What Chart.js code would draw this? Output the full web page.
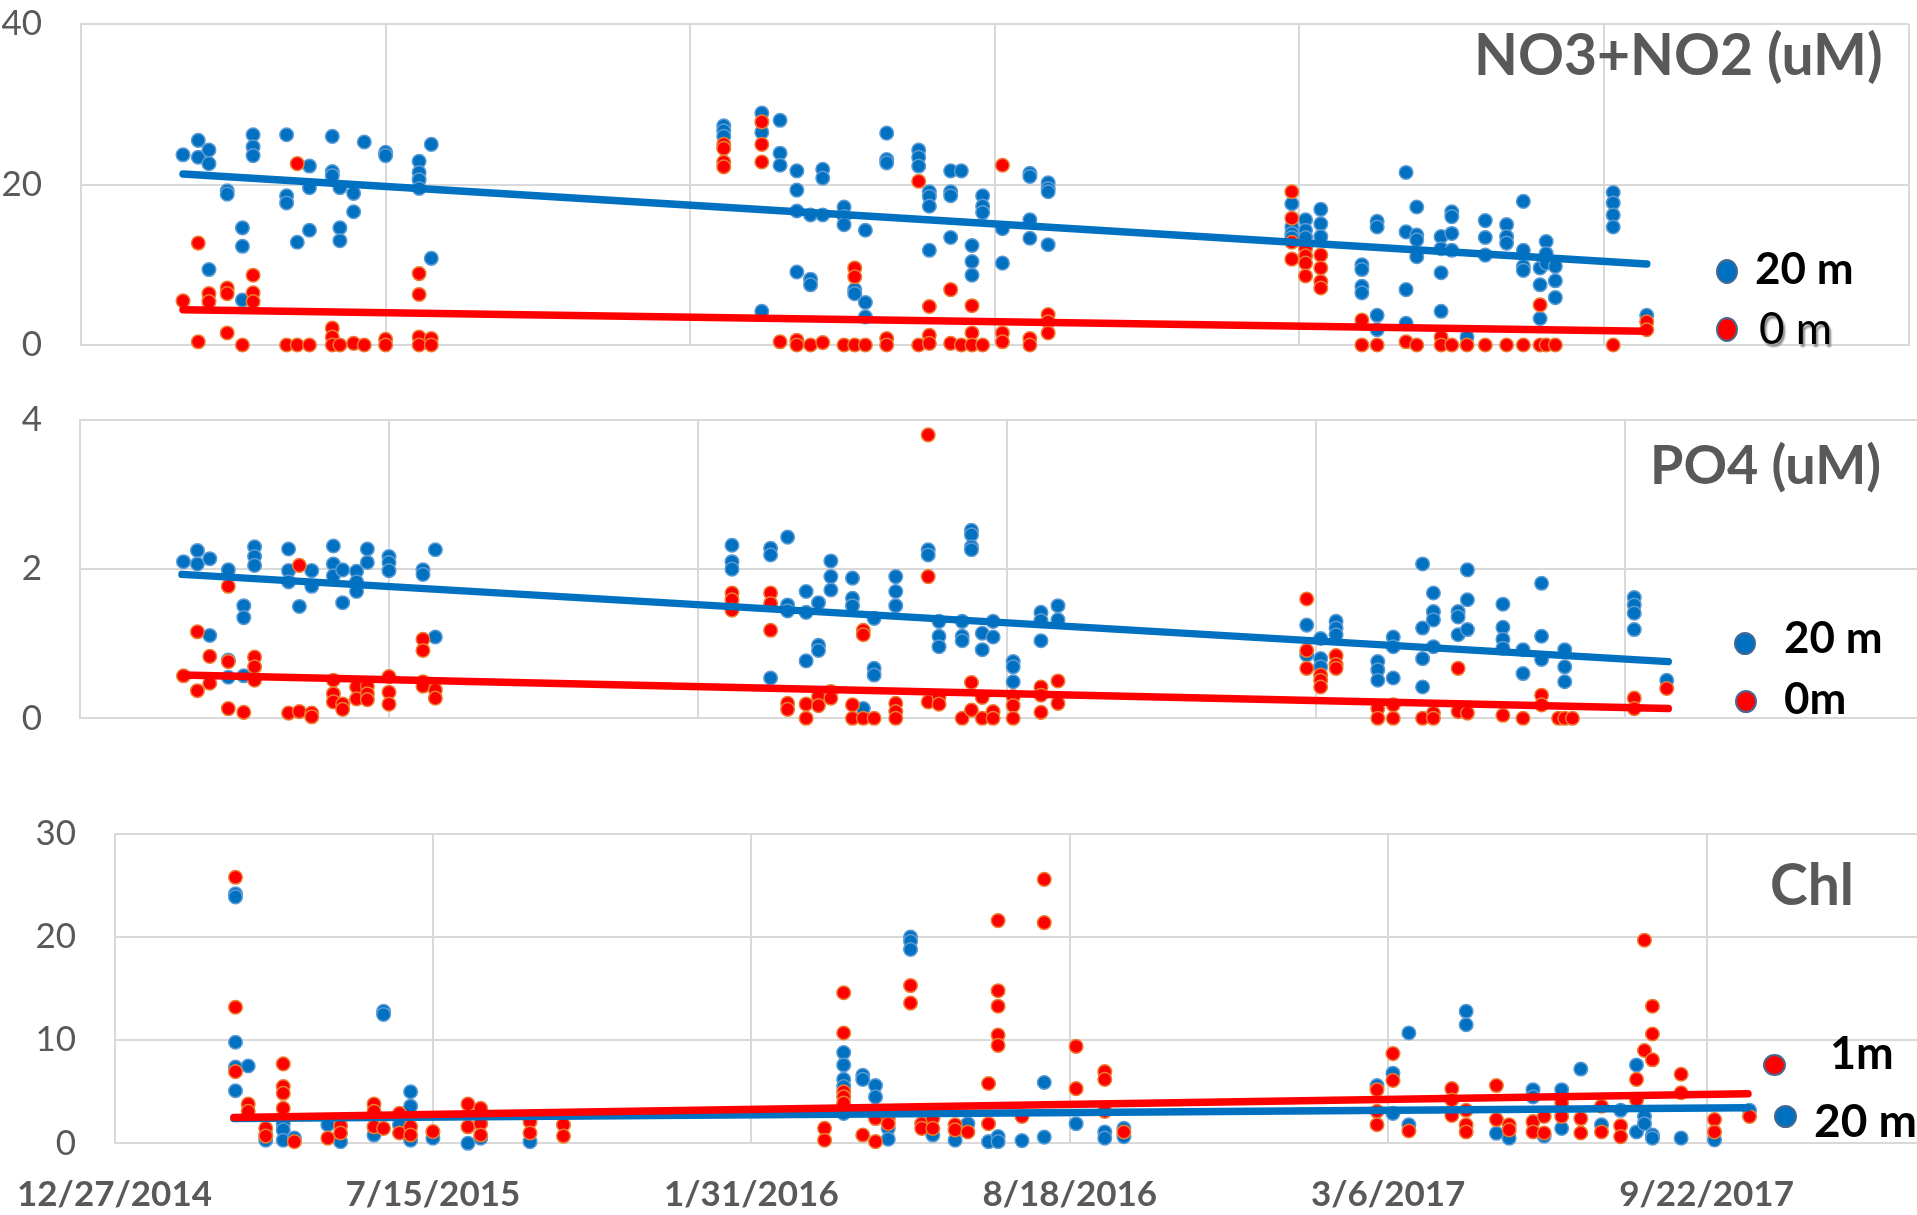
<!DOCTYPE html>
<html><head><meta charset="utf-8">
<script src="https://cdn.jsdelivr.net/npm/chart.js@4.4.1/dist/chart.umd.min.js"></script>
<style>
html,body{margin:0;padding:0;background:#fff;overflow:hidden;width:1917px;height:1215px;position:relative;}
canvas{position:absolute;left:0;}
.t{position:absolute;font-family:Lato,"Open Sans",sans-serif;line-height:1;white-space:nowrap;}
.title{font-weight:bold;color:#595959;}
.lg{font-weight:bold;color:#000;}
.mk{position:absolute;border-radius:50%;box-sizing:border-box;border:2px solid #47698f;}
</style></head>
<body>
<canvas id="c1" width="1917" height="370" style="top:0px;width:1917px;height:370px"></canvas>
<canvas id="c2" width="1960" height="345" style="top:395px;width:1960px;height:345px"></canvas>
<canvas id="c3" width="2145" height="405" style="top:810px;width:2145px;height:405px"></canvas>

<div class="t title" style="left:1474px;top:25px;font-size:57px">NO3+NO2 (uM)</div>
<div class="mk" style="left:1716px;top:259px;width:22px;height:25px;background:#0070C0"></div>
<div class="t lg" style="left:1755px;top:245px;font-size:44px">20 m</div>
<div class="mk" style="left:1716px;top:317px;width:22px;height:25px;background:#FF0000"></div>
<div class="t lg" style="left:1759px;top:305px;font-size:44px;font-weight:normal;text-shadow:2px 3px 2px #8a8a8a">0 m</div>

<div class="t title" style="left:1650px;top:437px;font-size:54px">PO4 (uM)</div>
<div class="mk" style="left:1734px;top:632px;width:22px;height:23px;background:#0070C0"></div>
<div class="t lg" style="left:1784px;top:613.5px;font-size:44px">20 m</div>
<div class="mk" style="left:1735px;top:690px;width:22px;height:23px;background:#FF0000"></div>
<div class="t lg" style="left:1784px;top:675px;font-size:44px">0m</div>

<div class="t title" style="left:1770px;top:855px;font-size:57px">Chl</div>
<div class="mk" style="left:1763px;top:1054px;width:23px;height:22px;background:#FF0000"></div>
<div class="t lg" style="left:1830px;top:1030px;font-size:45px">1m</div>
<div class="mk" style="left:1774px;top:1105px;width:23px;height:23px;background:#0070C0"></div>
<div class="t lg" style="left:1814px;top:1097px;font-size:46px">20 m</div>

<script>
// x values are days since 12/27/2014
const tickLabels = ['12/27/2014','7/15/2015','1/31/2016','8/18/2016','3/6/2017','9/22/2017','4/10/2018'];

// NO3+NO2 (uM)
const no3_20m = [[67,23.7],[77,25.5],[77,23.4],[84,24.3],[84,22.6],[84,9.4],[96,19.2],[96,18.8],[106,14.6],[106,12.3],[106,5.6],[113,26.2],[113,24.7],[113,23.6],[135,26.2],[135,18.6],[135,17.7],[142,12.8],[150,22.3],[150,19.6],[150,14.3],[165,26.0],[165,21.6],[165,21.1],[170,19.6],[170,14.6],[170,13.0],[179,18.9],[179,16.6],[186,25.3],[200,24.0],[200,23.6],[222,22.9],[222,21.5],[222,20.6],[222,19.5],[230,25.0],[230,10.8],
[422,27.3],[422,26.7],[422,26.0],[447,28.9],[447,26.5],[447,4.2],[459,28.0],[459,23.9],[459,22.4],[470,21.7],[470,19.3],[470,16.7],[470,9.1],[479,16.2],[479,8.2],[479,7.5],[487,21.9],[487,20.8],[487,16.2],[501,17.2],[501,16.0],[501,15.0],[508,6.9],[508,6.4],[515,14.3],[515,5.3],[515,3.5],[529,26.4],[529,23.1],[529,22.7],[550,24.3],[550,23.4],[550,22.3],[557,19.1],[557,18.5],[557,17.3],[557,11.8],[571,21.7],[571,19.1],[571,18.6],[571,13.4],[578,21.7],[585,12.4],[585,10.4],[585,8.7],[592,18.6],[592,17.3],[592,16.5],[605,14.5],[605,10.2],[623,21.4],[623,21.0],[623,15.6],[623,13.3],[635,20.2],[635,19.5],[635,19.1],[635,12.5],
[795,17.6],[795,14.7],[795,13.9],[795,13.4],[804,15.6],[804,14.3],[804,13.4],[814,16.9],[814,15.1],[814,13.5],[841,10.0],[841,9.4],[841,7.3],[841,6.5],[851,15.4],[851,14.7],[851,3.7],[851,1.9],[870,21.5],[870,14.1],[870,6.9],[870,2.7],[877,17.2],[877,13.7],[877,13.1],[877,11.0],[893,13.5],[893,12.0],[893,9.0],[893,4.2],[900,16.6],[900,16.0],[900,13.9],[900,11.8],[910,1.0],[922,15.5],[922,13.4],[922,11.2],[936,15.0],[936,13.5],[936,12.7],[947,17.9],[947,11.8],[947,9.8],[947,9.3],[958,9.6],[958,7.5],[958,3.3],[962,12.9],[962,11.4],[962,10.2],[968,9.8],[968,8.0],[968,5.9],[1006,19.0],[1006,17.7],[1006,16.2],[1006,14.7],[1028,3.7]];
const no3_0m = [[67,5.5],[77,12.7],[77,0.4],[84,6.4],[84,5.4],[96,7.1],[96,6.4],[96,1.5],[106,0],[113,8.7],[113,6.5],[113,5.4],[135,0],[142,22.6],[142,0],[150,0],[165,2.1],[165,1.0],[165,0],[170,0],[179,0.2],[186,0],[200,0.7],[200,0],[222,8.9],[222,6.3],[222,1.0],[222,0],[230,0.8],[230,0],
[422,25.0],[422,24.5],[422,22.8],[422,22.2],[447,27.8],[447,25.0],[447,22.8],[459,0.4],[470,0.6],[470,0],[479,0],[487,0.3],[501,0],[508,9.6],[508,8.5],[508,0],[515,0],[529,0.8],[529,0],[550,20.4],[550,0],[557,4.8],[557,1.2],[557,0.2],[571,6.9],[571,0.2],[578,0],[585,4.9],[585,1.5],[585,0],[592,0],[605,22.4],[605,1.5],[605,0.4],[623,0.8],[623,0],[635,3.8],[635,2.9],[635,1.5],
[795,19.1],[795,15.8],[795,12.8],[795,10.7],[804,12.0],[804,11.1],[804,10.2],[804,8.6],[814,11.2],[814,9.6],[814,7.9],[814,7.1],[841,3.1],[841,0],[851,0],[870,0.4],[877,0],[893,1.0],[893,0],[900,0],[910,0],[922,0],[936,0],[947,0],[958,5.0],[958,0],[962,0],[968,0],[1006,0],[1028,2.9],[1028,1.9]];
const no3_trend20 = [[67,21.3],[1028,10.1]];
const no3_trend0 = [[67,4.4],[1028,1.7]];

// PO4 (uM)
const po4_20m = [[67,2.10],[76,2.25],[76,2.07],[84,2.14],[84,1.11],[96,1.99],[96,0.78],[96,0.55],[106,1.51],[106,1.35],[106,0.57],[113,2.30],[113,2.17],[113,2.05],[135,2.27],[135,1.98],[135,1.83],[142,1.50],[150,1.98],[150,1.77],[164,2.31],[164,2.07],[164,1.91],[170,1.99],[170,1.55],[179,1.97],[179,1.83],[179,1.70],[186,2.27],[186,2.09],[200,2.17],[200,2.09],[200,1.98],[222,1.99],[222,1.93],[230,2.26],[230,1.09],
[422,2.32],[422,2.10],[422,2.00],[447,2.28],[447,2.19],[447,0.54],[458,2.43],[458,1.52],[458,1.44],[470,1.70],[470,1.42],[470,0.77],[478,1.55],[478,0.98],[478,0.91],[486,2.11],[486,1.90],[486,1.72],[500,1.88],[500,1.61],[500,1.51],[507,0.13],[514,1.34],[514,0.67],[514,0.58],[528,1.90],[528,1.70],[528,1.51],[549,2.26],[549,2.19],[556,1.30],[556,1.10],[556,0.96],[571,1.30],[571,1.10],[571,1.04],[577,2.52],[577,2.46],[577,2.30],[577,2.26],[584,1.14],[584,0.92],[591,1.30],[591,1.09],[604,0.76],[604,0.69],[604,0.49],[622,1.42],[622,1.31],[622,1.04],[633,1.51],[633,1.32],
[794,1.25],[794,0.85],[803,1.07],[803,0.80],[803,0.69],[813,1.30],[813,1.21],[813,1.12],[840,0.76],[840,0.65],[840,0.51],[850,1.09],[850,0.96],[850,0.54],[869,2.07],[869,1.21],[869,0.80],[869,0.42],[876,1.68],[876,1.43],[876,1.32],[876,0.96],[892,1.43],[892,1.36],[892,1.12],[898,1.99],[898,1.59],[898,1.19],[921,1.53],[921,1.22],[921,1.06],[921,0.94],[934,0.92],[934,0.60],[946,1.81],[946,1.10],[946,0.79],[961,0.92],[961,0.69],[961,0.49],[1006,1.62],[1006,1.52],[1006,1.41],[1006,1.19],[1027,0.51]];
const po4_0m = [[67,0.57],[76,1.16],[76,0.37],[84,0.83],[84,0.47],[96,1.77],[96,0.76],[96,0.13],[106,0.08],[113,0.82],[113,0.69],[113,0.51],[135,0.07],[142,2.05],[142,0.09],[150,0.07],[150,0.02],[164,0.51],[164,0.33],[164,0.22],[170,0.19],[170,0.12],[179,0.42],[179,0.26],[186,0.43],[186,0.33],[186,0.25],[200,0.56],[200,0.35],[200,0.19],[222,1.06],[222,0.91],[222,0.49],[222,0.43],[230,0.38],[230,0.27],
[422,1.68],[422,1.59],[422,1.45],[447,1.68],[447,1.54],[447,1.18],[458,0.20],[458,0.12],[470,0.19],[470,0],[478,0.29],[478,0.17],[486,0.36],[486,0.27],[500,0.18],[500,0],[507,1.18],[507,1.12],[507,0],[514,0],[528,0.20],[528,0.09],[528,0],[549,3.80],[549,1.90],[549,0.22],[556,0.29],[556,0.19],[571,0],[577,0.48],[577,0.11],[584,0.28],[584,0],[591,0.09],[591,0],[604,0.29],[604,0.17],[604,0],[622,0.42],[622,0.31],[622,0.08],[633,0.50],[633,0.20],
[794,1.60],[794,0.91],[794,0.67],[803,0.58],[803,0.51],[803,0.42],[813,0.84],[813,0.72],[813,0.67],[840,0.13],[840,0],[850,0.18],[850,0],[869,0],[876,0.07],[876,0],[892,0.67],[892,0.09],[898,0.07],[921,0.04],[934,0],[946,0.31],[946,0.18],[957,0],[961,0],[966,0],[1006,0.27],[1006,0.13],[1027,0.40]];
const po4_trend20 = [[66,1.93],[1028,0.76]];
const po4_trend0 = [[66,0.58],[1028,0.13]];

// Chl
const chl_20m = [[76,24.2],[76,23.9],[76,9.8],[76,7.4],[76,5.1],[84,7.5],[95,0.8],[95,0.3],[106,1.9],[106,1.3],[106,0.3],[113,0.5],[134,1.8],[142,0.16],[163,0.8],[169,12.8],[169,12.5],[179,1.8],[186,5.0],[186,3.6],[186,0.3],[200,0.5],[222,0],[230,0.5],[261,0.16],
[458,8.8],[458,7.6],[458,6.2],[458,5.5],[458,2.9],[470,6.6],[470,6.2],[478,5.6],[478,4.5],[486,1.45],[486,0.4],[500,20.0],[500,19.6],[500,18.8],[514,0.8],[528,0.3],[536,1.9],[549,0.16],[555,0.65],[555,0.16],[570,0.26],[584,5.9],[584,0.6],[604,1.9],[622,1.1],[622,0.5],[634,1.45],[634,0.65],
[793,5.6],[803,6.8],[803,2.9],[813,10.7],[813,1.8],[849,12.8],[849,11.5],[868,0.97],[876,0.5],[891,5.2],[891,4.5],[898,0.7],[909,5.2],[909,1.45],[921,7.2],[934,1.8],[946,3.2],[956,7.6],[956,1.1],[961,2.6],[961,1.9],[966,0.8],[966,0.5],[984,0.5],[1005,0.33],[1027,3.2]];
const chl_1m = [[76,25.8],[76,13.2],[76,6.95],[84,3.8],[84,3.1],[95,1.45],[95,0.7],[106,7.7],[106,5.5],[106,4.85],[106,3.4],[113,0.16],[134,0.5],[142,1.7],[142,1.0],[163,3.8],[163,3.1],[163,1.6],[169,1.45],[179,2.9],[179,1.0],[186,1.6],[186,0.8],[200,1.13],[222,3.8],[222,1.6],[230,3.4],[230,1.9],[230,0.8],[261,2.1],[261,1.0],[282,1.8],[282,0.7],
[446,1.45],[446,0.3],[458,14.6],[458,10.7],[458,5.0],[458,4.5],[458,3.9],[470,0.8],[478,2.4],[478,0.16],[486,2.4],[486,1.9],[500,15.3],[500,13.6],[507,1.9],[507,1.45],[514,2.4],[514,1.45],[528,1.8],[528,1.3],[536,1.1],[549,5.8],[549,1.9],[555,21.6],[555,14.8],[555,13.3],[555,10.5],[555,9.5],[570,2.6],[584,25.6],[584,21.4],[604,9.4],[604,5.3],[622,6.95],[622,6.2],[622,3.1],[634,1.1],
[793,5.2],[793,3.1],[793,1.8],[803,8.7],[803,6.1],[813,1.2],[840,5.3],[840,4.2],[840,2.7],[849,3.2],[849,1.8],[849,1.1],[868,5.6],[868,2.3],[876,1.8],[876,1.3],[891,2.1],[891,1.1],[898,2.6],[898,1.0],[909,3.9],[909,2.6],[921,2.4],[921,1.0],[934,3.6],[934,1.1],[946,1.7],[946,0.65],[956,6.2],[956,4.2],[961,19.7],[961,9.0],[966,13.3],[966,10.6],[966,8.1],[984,6.7],[984,4.9],[1005,2.3],[1005,1.1],[1027,2.6]];
const chl_trend1 = [[75,2.5],[1026,4.8]];
const chl_trend20 = [[75,2.4],[1026,3.45]];

const BLUE = '#0070C0', BLUE_EDGE = '#5B9BD5', RED = '#FF0000', RED_EDGE = '#ED7D31';
const GRID = '#D9D9D9', LABEL = '#595959';

const toPts = a => a.map(([x, y]) => ({x, y}));
function pts(data, fill, edge, order) {
  return {data: toPts(data), backgroundColor: fill, borderColor: edge, borderWidth: 1.5,
    pointRadius: 6.8, pointHoverRadius: 6.8, showLine: false, clip: false, order};
}
function trend(data, color, order) {
  return {data: toPts(data), borderColor: color, backgroundColor: color, borderWidth: 7.5,
    pointRadius: 0, showLine: true, borderCapStyle: 'round', fill: false, clip: false, order};
}

function make(id, datasets, o) {
  return new Chart(document.getElementById(id), {
    type: 'scatter',
    data: {datasets},
    options: {
      responsive: false, animation: false, events: [],
      layout: {padding: {top: o.padTop, right: o.padRight, left: 0, bottom: 0}},
      plugins: {legend: {display: false}, tooltip: {enabled: false}, title: {display: false}},
      scales: {
        x: {type: 'linear', min: 0, max: 1200,
          ticks: {stepSize: 200, display: o.showX, maxRotation: 0, autoSkip: false, padding: 30,
            color: LABEL, font: {family: 'Lato', size: 35, weight: 'bold'},
            callback: v => tickLabels[Math.round(v / 200)] || ''},
          grid: {color: GRID, lineWidth: 2, drawTicks: false},
          border: {color: GRID, width: 2},
          afterFit: s => { s.height = o.xH; s.paddingLeft = 0; s.paddingRight = 0; }},
        y: {type: 'linear', min: 0, max: o.yMax,
          ticks: {stepSize: o.yStep, padding: o.yPad, color: LABEL, font: {family: 'Lato', size: 35}},
          grid: {color: GRID, lineWidth: 2, drawTicks: false},
          border: {color: GRID, width: 2},
          afterFit: s => { s.width = o.yW; s.paddingTop = 0; s.paddingBottom = 0; }}
      }
    }
  });
}

make('c1', [
  trend(no3_trend20, BLUE, 0), trend(no3_trend0, RED, 0),
  pts(no3_0m, RED, RED_EDGE, 1), pts(no3_20m, BLUE, BLUE_EDGE, 2)
], {padTop: 24, padRight: 5, yW: 81, xH: 25, yMax: 40, yStep: 20, yPad: 39, showX: false});

make('c2', [
  trend(po4_trend20, BLUE, 0), trend(po4_trend0, RED, 0),
  pts(po4_0m, RED, RED_EDGE, 1), pts(po4_20m, BLUE, BLUE_EDGE, 2)
], {padTop: 25, padRight: 26, yW: 80, xH: 21.7, yMax: 4, yStep: 2, yPad: 38, showX: false});

make('c3', [
  trend(chl_trend1, RED, 0), trend(chl_trend20, BLUE, 1),
  pts(chl_1m, RED, RED_EDGE, 2), pts(chl_20m, BLUE, BLUE_EDGE, 3)
], {padTop: 24, padRight: 120, yW: 114.5, xH: 71.7, yMax: 30, yStep: 10, yPad: 38.5, showX: true});
</script>
</body></html>
